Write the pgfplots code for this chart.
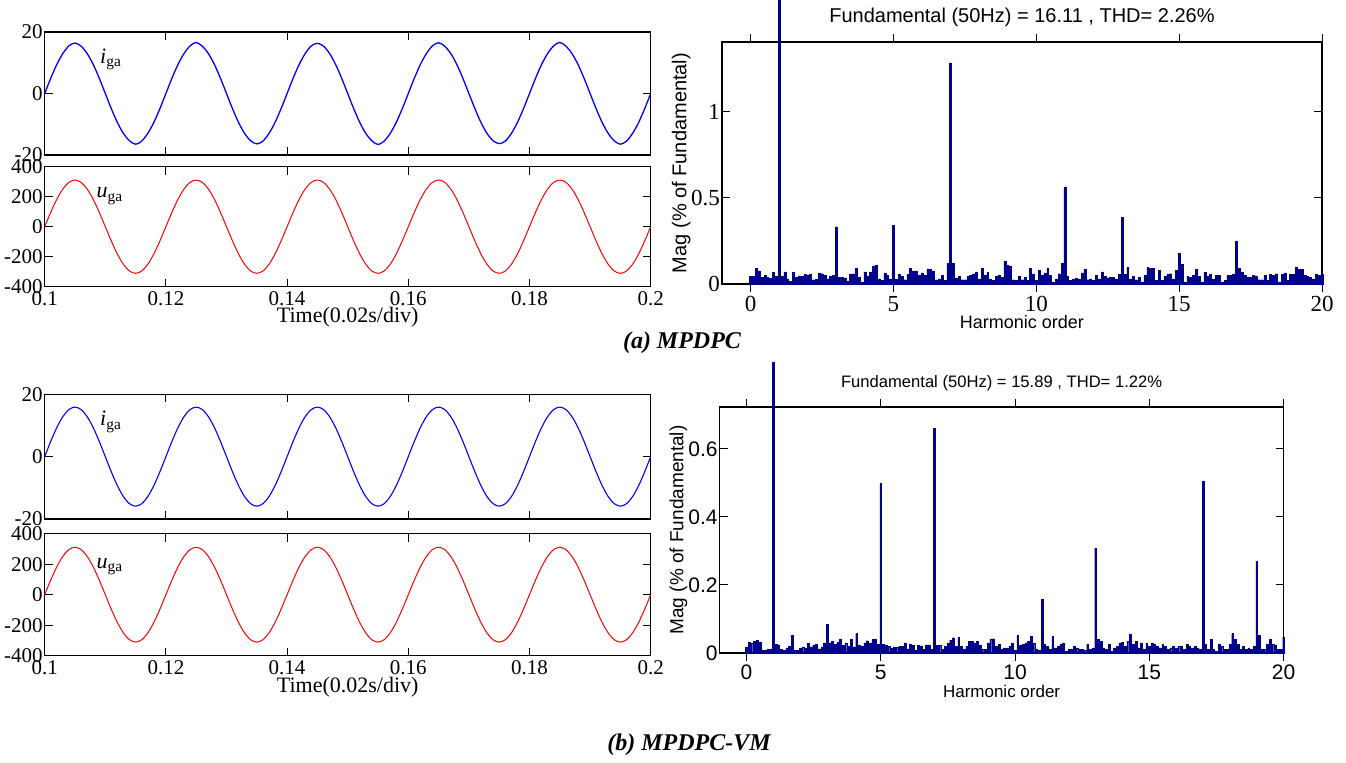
\documentclass[border=0pt]{standalone}
\usepackage{pgfplots}
\pgfplotsset{compat=1.18}
\usepackage{pgfplotstable}
\usepackage{fontspec}
\setmainfont{Liberation Serif}
\newfontfamily\arial{Liberation Sans}
\definecolor{fftblue}{RGB}{0,0,140}

% grid current / voltage, 1 ms steps
\pgfplotstableread{
t ia ib u
0.100 0 0 0
0.101 4.97 4.91 96.1
0.102 9.46 9.34 182.8
0.103 13.02 12.86 251.6
0.104 15.5 15.11 295.8
0.105 16.4 15.89 311.0
0.106 15.4 15.11 295.8
0.107 13.02 12.86 251.6
0.108 9.46 9.34 182.8
0.109 4.97 4.91 96.1
0.110 0 0 0
0.111 -4.97 -4.91 -96.1
0.112 -9.46 -9.34 -182.8
0.113 -13.02 -12.86 -251.6
0.114 -15.4 -15.11 -295.8
0.115 -16.5 -15.89 -311.0
0.116 -15.5 -15.11 -295.8
0.117 -13.02 -12.86 -251.6
0.118 -9.46 -9.34 -182.8
0.119 -4.97 -4.91 -96.1
0.120 0 0 0
0.121 4.97 4.91 96.1
0.122 9.46 9.34 182.8
0.123 13.02 12.86 251.6
0.124 15.5 15.11 295.8
0.125 16.6 15.89 311.0
0.126 15.4 15.11 295.8
0.127 13.02 12.86 251.6
0.128 9.46 9.34 182.8
0.129 4.97 4.91 96.1
0.130 0 0 0
0.131 -4.97 -4.91 -96.1
0.132 -9.46 -9.34 -182.8
0.133 -13.02 -12.86 -251.6
0.134 -15.4 -15.11 -295.8
0.135 -16.4 -15.89 -311.0
0.136 -15.5 -15.11 -295.8
0.137 -13.02 -12.86 -251.6
0.138 -9.46 -9.34 -182.8
0.139 -4.97 -4.91 -96.1
0.140 0 0 0
0.141 4.97 4.91 96.1
0.142 9.46 9.34 182.8
0.143 13.02 12.86 251.6
0.144 15.5 15.11 295.8
0.145 16.3 15.89 311.0
0.146 15.4 15.11 295.8
0.147 13.02 12.86 251.6
0.148 9.46 9.34 182.8
0.149 4.97 4.91 96.1
0.150 0 0 0
0.151 -4.97 -4.91 -96.1
0.152 -9.46 -9.34 -182.8
0.153 -13.02 -12.86 -251.6
0.154 -15.4 -15.11 -295.8
0.155 -16.6 -15.89 -311.0
0.156 -15.5 -15.11 -295.8
0.157 -13.02 -12.86 -251.6
0.158 -9.46 -9.34 -182.8
0.159 -4.97 -4.91 -96.1
0.160 0 0 0
0.161 4.97 4.91 96.1
0.162 9.46 9.34 182.8
0.163 13.02 12.86 251.6
0.164 15.5 15.11 295.8
0.165 16.5 15.89 311.0
0.166 15.4 15.11 295.8
0.167 13.02 12.86 251.6
0.168 9.46 9.34 182.8
0.169 4.97 4.91 96.1
0.170 0 0 0
0.171 -4.97 -4.91 -96.1
0.172 -9.46 -9.34 -182.8
0.173 -13.02 -12.86 -251.6
0.174 -15.4 -15.11 -295.8
0.175 -16.3 -15.89 -311.0
0.176 -15.5 -15.11 -295.8
0.177 -13.02 -12.86 -251.6
0.178 -9.46 -9.34 -182.8
0.179 -4.97 -4.91 -96.1
0.180 0 0 0
0.181 4.97 4.91 96.1
0.182 9.46 9.34 182.8
0.183 13.02 12.86 251.6
0.184 15.5 15.11 295.8
0.185 16.6 15.89 311.0
0.186 15.4 15.11 295.8
0.187 13.02 12.86 251.6
0.188 9.46 9.34 182.8
0.189 4.97 4.91 96.1
0.190 0 0 0
0.191 -4.97 -4.91 -96.1
0.192 -9.46 -9.34 -182.8
0.193 -13.02 -12.86 -251.6
0.194 -15.4 -15.11 -295.8
0.195 -16.5 -15.89 -311.0
0.196 -15.5 -15.11 -295.8
0.197 -13.02 -12.86 -251.6
0.198 -9.46 -9.34 -182.8
0.199 -4.97 -4.91 -96.1
0.200 0 0 0
}\wave

\tikzset{lbl/.style={anchor=base west, font=\fontsize{11}{11}\selectfont}}

\pgfplotsset{
  base/.style={scale only axis, axis line style={line width=0.7pt},
    every tick/.style={black, line width=0.5pt}, major tick length=4pt,
    tick align=inside, tick pos=both, scaled ticks=false,
    /pgf/number format/assume math mode=true},
  timeax/.style={base, width=303pt, xmin=0.1, xmax=0.2,
    xtick={0.1,0.12,0.14,0.16,0.18,0.2},
    ticklabel style={font=\fontsize{10.5}{10.5}\selectfont},
    yticklabel style={xshift=2.5pt}, xticklabel style={yshift=1pt}},
  curax/.style={timeax, ymin=-20, ymax=20, ytick={-20,0,20}, xticklabels={}},
  volax/.style={timeax, ymin=-400, ymax=400, ytick={-400,-200,0,200,400},
    xlabel={Time(0.02s/div)},
    xlabel style={font=\fontsize{11}{11}\selectfont, anchor=center}},
  fftax/.style={base, ybar, bar width=0.065, xmin=-1, xmax=20, ymin=0,
    xtick={0,5,10,15,20}, clip=false,
    yticklabel style={xshift=2.5pt}, xticklabel style={yshift=1.5pt},
    xlabel={Harmonic order}, ylabel={Mag (\% of Fundamental)},
    xlabel style={anchor=center}, ylabel style={anchor=center}},
}

\begin{document}
\begin{tikzpicture}
\useasboundingbox (0,0) rectangle (673pt,381.5pt);

% ---------- (a) time domain ----------
\begin{axis}[curax, at={(22.35pt,304pt)}, anchor=south west, height=61.5pt]
\addplot[blue, line width=0.65pt, smooth] table[x=t, y=ia] {\wave};
\node[lbl] at (axis cs:0.1080,9.9) {\textit{i}\textsubscript{ga}};
\end{axis}
\begin{axis}[volax, at={(22.35pt,238.15pt)}, anchor=south west, height=60pt,
  xlabel style={at={(axis description cs:0.5,-0.254)}}]
\addplot[red, line width=0.5pt, smooth] table[x=t, y=u] {\wave};
\node[lbl] at (axis cs:0.1074,192) {\textit{u}\textsubscript{ga}};
\end{axis}

% ---------- (a) spectrum ----------
\begin{axis}[fftax, at={(361pt,239.5pt)}, anchor=south west,
  width=300pt, height=121pt, ymax=1.407, ytick={0,0.5,1},
  ticklabel style={font=\fontsize{11.5}{11.5}\selectfont},
  xlabel style={font=\arial\fontsize{9}{9}\selectfont, at={(axis description cs:0.5,-0.157)}},
  ylabel style={font=\arial\fontsize{10}{10}\selectfont, at={(axis description cs:-0.068,0.5)}}]
\addplot[fill=fftblue, draw=fftblue, line width=0.15pt] coordinates {
(0.0,.043)(0.1,.043)(0.2,.09)(0.3,.076)(0.4,.04)(0.5,.05)(0.6,.04)(0.7,.033)(0.8,.066)(0.9,.043)
(1.0,1.65)(1.1,.045)(1.2,.07)(1.3,.03)(1.4,.015)(1.5,.066)(1.6,.04)(1.7,.047)(1.8,.045)(1.9,.056)
(2.0,.05)(2.1,.058)(2.2,.025)(2.3,.03)(2.4,.064)(2.5,.06)(2.6,.05)(2.7,.03)(2.8,.045)(2.9,.05)
(3.0,.333)(3.1,.04)(3.2,.037)(3.3,.035)(3.4,.014)(3.5,.056)(3.6,.06)(3.7,.09)(3.8,.037)(3.9,.012)
(4.0,.07)(4.1,.045)(4.2,.07)(4.3,.105)(4.4,.107)(4.5,.03)(4.6,.02)(4.7,.064)(4.8,.052)(4.9,.03)
(5.0,.34)(5.1,.03)(5.2,.056)(5.3,.045)(5.4,.025)(5.5,.056)(5.6,.09)(5.7,.076)(5.8,.076)(5.9,.05)
(6.0,.064)(6.1,.05)(6.2,.088)(6.3,.085)(6.4,.076)(6.5,.025)(6.6,.03)(6.7,.05)(6.8,.02)(6.9,.12)
(7.0,1.286)(7.1,.12)(7.2,.035)(7.3,.043)(7.4,.025)(7.5,.025)(7.6,.045)(7.7,.05)(7.8,.06)(7.9,.07)
(8.0,.03)(8.1,.09)(8.2,.05)(8.3,.068)(8.4,.03)(8.5,.02)(8.6,.045)(8.7,.05)(8.8,.04)(8.9,.13)
(9.0,.11)(9.1,.105)(9.2,.025)(9.3,.02)(9.4,.045)(9.5,.025)(9.6,.037)(9.7,.02)(9.8,.09)(9.9,.056)
(10.0,.02)(10.1,.08)(10.2,.05)(10.3,.064)(10.4,.093)(10.5,.05)(10.6,.012)(10.7,.03)(10.8,.06)(10.9,.12)
(11.0,.562)(11.1,.045)(11.2,.02)(11.3,.03)(11.4,.035)(11.5,.03)(11.6,.064)(11.7,.084)(11.8,.025)(11.9,.03)
(12.0,.02)(12.1,.05)(12.2,.03)(12.3,.07)(12.4,.045)(12.5,.035)(12.6,.04)(12.7,.037)(12.8,.03)(12.9,.056)
(13.0,.387)(13.1,.055)(13.2,.095)(13.3,.03)(13.4,.045)(13.5,.025)(13.6,.037)(13.7,.012)(13.8,.05)(13.9,.097)
(14.0,.09)(14.1,.09)(14.2,.02)(14.3,.08)(14.4,.02)(14.5,.045)(14.6,.055)(14.7,.06)(14.8,.03)(14.9,.08)
(15.0,.179)(15.1,.113)(15.2,.012)(15.3,.045)(15.4,.04)(15.5,.05)(15.6,.084)(15.7,.045)(15.8,.012)(15.9,.068)
(16.0,.045)(16.1,.056)(16.2,.03)(16.3,.052)(16.4,.05)(16.5,.012)(16.6,.02)(16.7,.05)(16.8,.05)(16.9,.056)
(17.0,.249)(17.1,.09)(17.2,.07)(17.3,.05)(17.4,.04)(17.5,.037)(17.6,.05)(17.7,.045)(17.8,.025)(17.9,.025)
(18.0,.05)(18.1,.02)(18.2,.056)(18.3,.05)(18.4,.06)(18.5,.012)(18.6,.056)(18.7,.064)(18.8,.02)(18.9,.056)
(19.0,.056)(19.1,.1)(19.2,.084)(19.3,.084)(19.4,.05)(19.5,.045)(19.6,.04)(19.7,.03)(19.8,.056)(19.9,.05)
(20.0,.056)
};
\node[anchor=base, font=\arial\fontsize{10}{10}\selectfont, yshift=9.8pt]
  at (rel axis cs:0.5,1) {Fundamental (50Hz) = 16.11 , THD= 2.26\%};
\end{axis}

\node[font=\bfseries\itshape\fontsize{12}{12}\selectfont] at (341pt,210pt) {(a) MPDPC};

% ---------- (b) time domain ----------
\begin{axis}[curax, at={(22.35pt,122pt)}, anchor=south west, height=62.35pt]
\addplot[blue, line width=0.55pt, smooth] table[x=t, y=ib] {\wave};
\node[lbl] at (axis cs:0.1080,9.9) {\textit{i}\textsubscript{ga}};
\end{axis}
\begin{axis}[volax, at={(22.35pt,53.65pt)}, anchor=south west, height=61pt,
  xlabel style={at={(axis description cs:0.5,-0.262)}}]
\addplot[red, line width=0.5pt, smooth] table[x=t, y=u] {\wave};
\node[lbl] at (axis cs:0.1074,175) {\textit{u}\textsubscript{ga}};
\end{axis}

% ---------- (b) spectrum ----------
\begin{axis}[fftax, at={(359.8pt,55pt)}, anchor=south west,
  width=282pt, height=123pt, ymax=0.723, ytick={0,0.2,0.4,0.6},
  ticklabel style={font=\arial\fontsize{10.5}{10.5}\selectfont},
  xlabel style={font=\arial\fontsize{8.5}{8.5}\selectfont, at={(axis description cs:0.5,-0.158)}},
  ylabel style={font=\arial\fontsize{9.5}{9.5}\selectfont, at={(axis description cs:-0.073,0.5)}}]
\addplot[fill=fftblue, draw=fftblue, line width=0.15pt] coordinates {
(0.0,.018)(0.1,.032)(0.2,.029)(0.3,.034)(0.4,.037)(0.5,.032)(0.6,.008)(0.7,.008)(0.8,.01)(0.9,.012)
(1.0,.855)(1.1,.025)(1.2,.024)(1.3,.01)(1.4,.008)(1.5,.015)(1.6,.02)(1.7,.052)(1.8,.008)(1.9,.008)
(2.0,.015)(2.1,.018)(2.2,.015)(2.3,.028)(2.4,.018)(2.5,.024)(2.6,.026)(2.7,.012)(2.8,.016)(2.9,.03)
(3.0,.085)(3.1,.03)(3.2,.035)(3.3,.025)(3.4,.032)(3.5,.04)(3.6,.022)(3.7,.03)(3.8,.02)(3.9,.04)
(4.0,.018)(4.1,.057)(4.2,.024)(4.3,.02)(4.4,.03)(4.5,.036)(4.6,.03)(4.7,.04)(4.8,.04)(4.9,.025)
(5.0,.498)(5.1,.025)(5.2,.024)(5.3,.02)(5.4,.014)(5.5,.018)(5.6,.016)(5.7,.02)(5.8,.02)(5.9,.03)
(6.0,.012)(6.1,.026)(6.2,.024)(6.3,.008)(6.4,.022)(6.5,.02)(6.6,.01)(6.7,.024)(6.8,.024)(6.9,.01)
(7.0,.661)(7.1,.022)(7.2,.024)(7.3,.01)(7.4,.02)(7.5,.03)(7.6,.038)(7.7,.045)(7.8,.02)(7.9,.046)
(8.0,.02)(8.1,.01)(8.2,.02)(8.3,.034)(8.4,.035)(8.5,.03)(8.6,.034)(8.7,.024)(8.8,.01)(8.9,.01)
(9.0,.03)(9.1,.04)(9.2,.042)(9.3,.02)(9.4,.025)(9.5,.01)(9.6,.015)(9.7,.015)(9.8,.02)(9.9,.03)
(10.0,.008)(10.1,.052)(10.2,.022)(10.3,.026)(10.4,.03)(10.5,.034)(10.6,.05)(10.7,.03)(10.8,.01)(10.9,.008)
(11.0,.158)(11.1,.025)(11.2,.02)(11.3,.01)(11.4,.049)(11.5,.015)(11.6,.02)(11.7,.025)(11.8,.03)(11.9,.005)
(12.0,.01)(12.1,.01)(12.2,.02)(12.3,.015)(12.4,.01)(12.5,.01)(12.6,.008)(12.7,.025)(12.8,.01)(12.9,.015)
(13.0,.308)(13.1,.04)(13.2,.035)(13.3,.015)(13.4,.01)(13.5,.025)(13.6,.005)(13.7,.015)(13.8,.02)(13.9,.03)
(14.0,.032)(14.1,.02)(14.2,.034)(14.3,.054)(14.4,.025)(14.5,.035)(14.6,.015)(14.7,.03)(14.8,.01)(14.9,.03)
(15.0,.02)(15.1,.03)(15.2,.025)(15.3,.02)(15.4,.015)(15.5,.025)(15.6,.02)(15.7,.01)(15.8,.015)(15.9,.02)
(16.0,.015)(16.1,.02)(16.2,.02)(16.3,.01)(16.4,.025)(16.5,.02)(16.6,.015)(16.7,.02)(16.8,.015)(16.9,.01)
(17.0,.504)(17.1,.025)(17.2,.01)(17.3,.04)(17.4,.01)(17.5,.005)(17.6,.025)(17.7,.02)(17.8,.01)(17.9,.01)
(18.0,.025)(18.1,.057)(18.2,.04)(18.3,.025)(18.4,.01)(18.5,.02)(18.6,.01)(18.7,.015)(18.8,.01)(18.9,.02)
(19.0,.27)(19.1,.052)(19.2,.01)(19.3,.01)(19.4,.025)(19.5,.04)(19.6,.025)(19.7,.022)(19.8,.01)(19.9,.01)
(20.0,.047)
};
\node[anchor=base, font=\arial\fontsize{8.3}{8.3}\selectfont, yshift=9.5pt]
  at (rel axis cs:0.5,1) {Fundamental (50Hz) = 15.89 , THD= 1.22\%};
\end{axis}

\node[font=\bfseries\itshape\fontsize{12}{12}\selectfont] at (344.5pt,9pt) {(b) MPDPC-VM};
\end{tikzpicture}
\end{document}
